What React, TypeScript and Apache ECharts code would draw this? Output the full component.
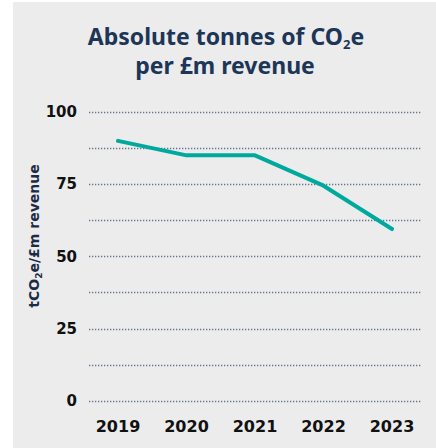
import React, { useEffect, useRef } from "react";
import * as echarts from "echarts";

const years = ["2019", "2020", "2021", "2022", "2023"];
const intensity = [90, 85, 85, 74.5, 59.5];
const yTickLabels = [0, 25, 50, 75, 100];

export default function App() {
  const ref = useRef<HTMLDivElement>(null);
  useEffect(() => {
    if (!ref.current) return;
    const chart = echarts.init(ref.current, null, { renderer: "svg" });
    const font = "DejaVu Sans";
    const titleFont = "Noto Sans";
    const navy = "#1d3557";
    const option: any = {
      animation: false,
      backgroundColor: "#ffffff",
      graphic: [
        {
          type: "rect",
          z: -10,
          silent: true,
          shape: { x: 13, y: 2, width: 423, height: 446 },
          style: { fill: "#ececec" },
        },
        {
          type: "text",
          x: 226,
          y: 22,
          style: {
            text: "{a|Absolute tonnes of CO}{s|2}{a|e}",
            textAlign: "center",
            textVerticalAlign: "top",
            rich: {
              a: { fontFamily: titleFont, fontWeight: 700, fontSize: 23, lineHeight: 28, fill: navy },
              s: { fontFamily: titleFont, fontWeight: 700, fontSize: 13, lineHeight: 14, verticalAlign: "bottom", fill: navy },
            },
          },
        },
        {
          type: "text",
          x: 225,
          y: 51,
          style: {
            text: "per £m revenue",
            textAlign: "center",
            textVerticalAlign: "top",
            fontFamily: titleFont,
            fontWeight: 700,
            fontSize: 23,
            lineHeight: 28,
            fill: navy,
          },
        },
        {
          type: "text",
          x: 34,
          y: 236,
          rotation: Math.PI / 2,
          style: {
            text: "{a|tCO}{s|2}{a|e/£m revenue}",
            textAlign: "center",
            textVerticalAlign: "middle",
            rich: {
              a: { fontFamily: font, fontWeight: 700, fontSize: 14, lineHeight: 18, fill: "#1b2b45" },
              s: { fontFamily: font, fontWeight: 700, fontSize: 9, lineHeight: 11, verticalAlign: "bottom", fill: "#1b2b45" },
            },
          },
        },
      ],
      grid: [
        { left: 89, right: 14, top: 112, bottom: 47 },
        { left: 118, right: 44, top: 112, bottom: 47 },
      ],
      xAxis: [
        { type: "category", gridIndex: 0, data: years, show: false },
        {
          type: "category",
          gridIndex: 1,
          data: years,
          boundaryGap: false,
          axisLine: { show: false },
          axisTick: { show: false },
          splitLine: { show: false },
          axisLabel: {
            margin: 17,
            fontFamily: font,
            fontWeight: 700,
            fontSize: 16,
            color: "#111111",
          },
        },
      ],
      yAxis: [
        {
          type: "value",
          gridIndex: 0,
          min: 0,
          max: 100,
          interval: 12.5,
          axisLine: { show: false },
          axisTick: { show: false },
          axisLabel: {
            margin: 12,
            fontFamily: font,
            fontWeight: 700,
            fontSize: 15,
            color: "#111111",
            formatter: (v: number) => (yTickLabels.indexOf(v) >= 0 ? String(v) : ""),
          },
          splitLine: {
            show: true,
            lineStyle: { color: "#66738f", width: 1.3, type: [1.3, 1.7] },
          },
        },
        {
          type: "value",
          gridIndex: 1,
          min: 0,
          max: 100,
          interval: 12.5,
          show: false,
          splitLine: { show: false },
        },
      ],
      series: [
        {
          type: "line",
          xAxisIndex: 1,
          yAxisIndex: 1,
          data: intensity,
          symbol: "none",
          lineStyle: { color: "#00a99d", width: 4, cap: "round", join: "round" },
        },
      ],
    };
    chart.setOption(option);
    return () => chart.dispose();
  }, []);
  return (
    <div
      ref={ref}
      style={{ position: "absolute", left: 0, top: 0, width: 436, height: 448 }}
    />
  );
}
